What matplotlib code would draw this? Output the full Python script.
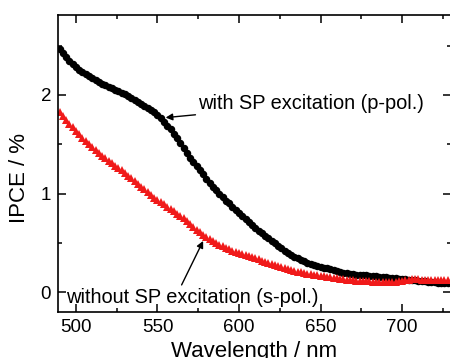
import numpy as np
import matplotlib
matplotlib.use("Agg")
import matplotlib.pyplot as plt

plt.rcParams['font.family'] = ['Liberation Sans', 'DejaVu Sans']

wavelength = list(range(490, 730, 2))

ipce_p = [2.47, 2.42, 2.38, 2.34, 2.31, 2.28, 2.25, 2.23, 2.21, 2.19,
          2.17, 2.15, 2.13, 2.11, 2.10, 2.08, 2.07, 2.05, 2.04, 2.02,
          2.01, 1.99, 1.97, 1.95, 1.93, 1.91, 1.89, 1.87, 1.85, 1.83,
          1.80, 1.765, 1.73, 1.69, 1.65, 1.605, 1.56, 1.51, 1.46, 1.41,
          1.36, 1.32, 1.28, 1.24, 1.20, 1.15, 1.11, 1.07, 1.04, 1.00,
          0.97, 0.93, 0.90, 0.86, 0.83, 0.80, 0.77, 0.74, 0.71, 0.68,
          0.65, 0.62, 0.60, 0.57, 0.55, 0.52, 0.495, 0.47, 0.445, 0.42,
          0.40, 0.38, 0.36, 0.345, 0.33, 0.315, 0.30, 0.29, 0.28, 0.27,
          0.26, 0.25, 0.245, 0.24, 0.23, 0.22, 0.21, 0.20, 0.195, 0.19,
          0.185, 0.18, 0.175, 0.17, 0.17, 0.165, 0.16, 0.16, 0.155, 0.15,
          0.15, 0.145, 0.14, 0.14, 0.135, 0.13, 0.13, 0.125, 0.12, 0.12,
          0.115, 0.11, 0.11, 0.105, 0.10, 0.10, 0.095, 0.09, 0.09, 0.09]

ipce_s = [1.83, 1.79, 1.75, 1.71, 1.67, 1.63, 1.60, 1.56, 1.53, 1.50,
          1.47, 1.44, 1.41, 1.38, 1.36, 1.33, 1.31, 1.28, 1.26, 1.24,
          1.21, 1.18, 1.16, 1.13, 1.10, 1.07, 1.05, 1.02, 0.99, 0.96,
          0.94, 0.91, 0.89, 0.86, 0.84, 0.82, 0.79, 0.77, 0.75, 0.72,
          0.69, 0.66, 0.635, 0.61, 0.585, 0.56, 0.54, 0.52, 0.50, 0.48,
          0.465, 0.45, 0.435, 0.42, 0.41, 0.40, 0.39, 0.38, 0.37, 0.355,
          0.345, 0.335, 0.32, 0.31, 0.30, 0.29, 0.28, 0.27, 0.26, 0.25,
          0.24, 0.23, 0.22, 0.21, 0.205, 0.20, 0.19, 0.185, 0.175, 0.17,
          0.165, 0.16, 0.155, 0.15, 0.145, 0.14, 0.135, 0.13, 0.125, 0.12,
          0.12, 0.115, 0.115, 0.11, 0.11, 0.11, 0.105, 0.10, 0.10, 0.10,
          0.10, 0.10, 0.10, 0.105, 0.11, 0.115, 0.12, 0.125, 0.13, 0.13,
          0.13, 0.125, 0.12, 0.12, 0.12, 0.12, 0.12, 0.12, 0.12, 0.12]

xticks = [500, 550, 600, 650, 700]
yticks = [0, 1, 2]

fig = plt.figure(figsize=(4.5, 3.58), dpi=100)
ax = fig.add_axes([58/450, 1 - 312/358, 393/450, (312 - 15)/358])

ax.plot(wavelength, ipce_p, linestyle='none', marker='o', markersize=5.4,
        color='black', markeredgewidth=0)
ax.plot(wavelength, ipce_s, linestyle='none', marker='^', markersize=6.4,
        color='#f01a1a', markeredgewidth=0)

ax.set_xticks(xticks)
ax.set_yticks(yticks)
ax.set_xticks([525, 575, 625, 675, 725], minor=True)
ax.set_yticks([0.5, 1.5, 2.5], minor=True)
ax.set_xlim(489, 730)
ax.set_ylim(-0.2, 2.81)

for s in ax.spines.values():
    s.set_linewidth(1.2)
ax.tick_params(which='both', direction='in', top=True, right=True, width=1.1,
               labelsize=13.5)
ax.tick_params(which='major', length=5.5, pad=5)
ax.tick_params(which='minor', length=3)

ax.set_xlabel('Wavelength / nm', fontsize=16, labelpad=4)
ax.set_ylabel('IPCE / %', fontsize=16)
ax.yaxis.set_label_coords(-0.072, 0.45)

ax.annotate('with SP excitation (p-pol.)', xy=(555, 1.77), xytext=(575, 1.91),
            fontsize=14.4, va='center', ha='left',
            arrowprops=dict(arrowstyle='-|>', color='black', lw=1.0,
                            mutation_scale=10, shrinkA=0, shrinkB=0))
ax.annotate('without SP excitation (s-pol.)', xy=(578, 0.52), xytext=(494, -0.05),
            fontsize=14.4, va='center', ha='left',
            arrowprops=dict(arrowstyle='-|>', color='black', lw=1.0,
                            mutation_scale=10, shrinkA=0, shrinkB=0,
                            relpos=(0.45, 0.95)))

fig.savefig('out.png', dpi=100)
